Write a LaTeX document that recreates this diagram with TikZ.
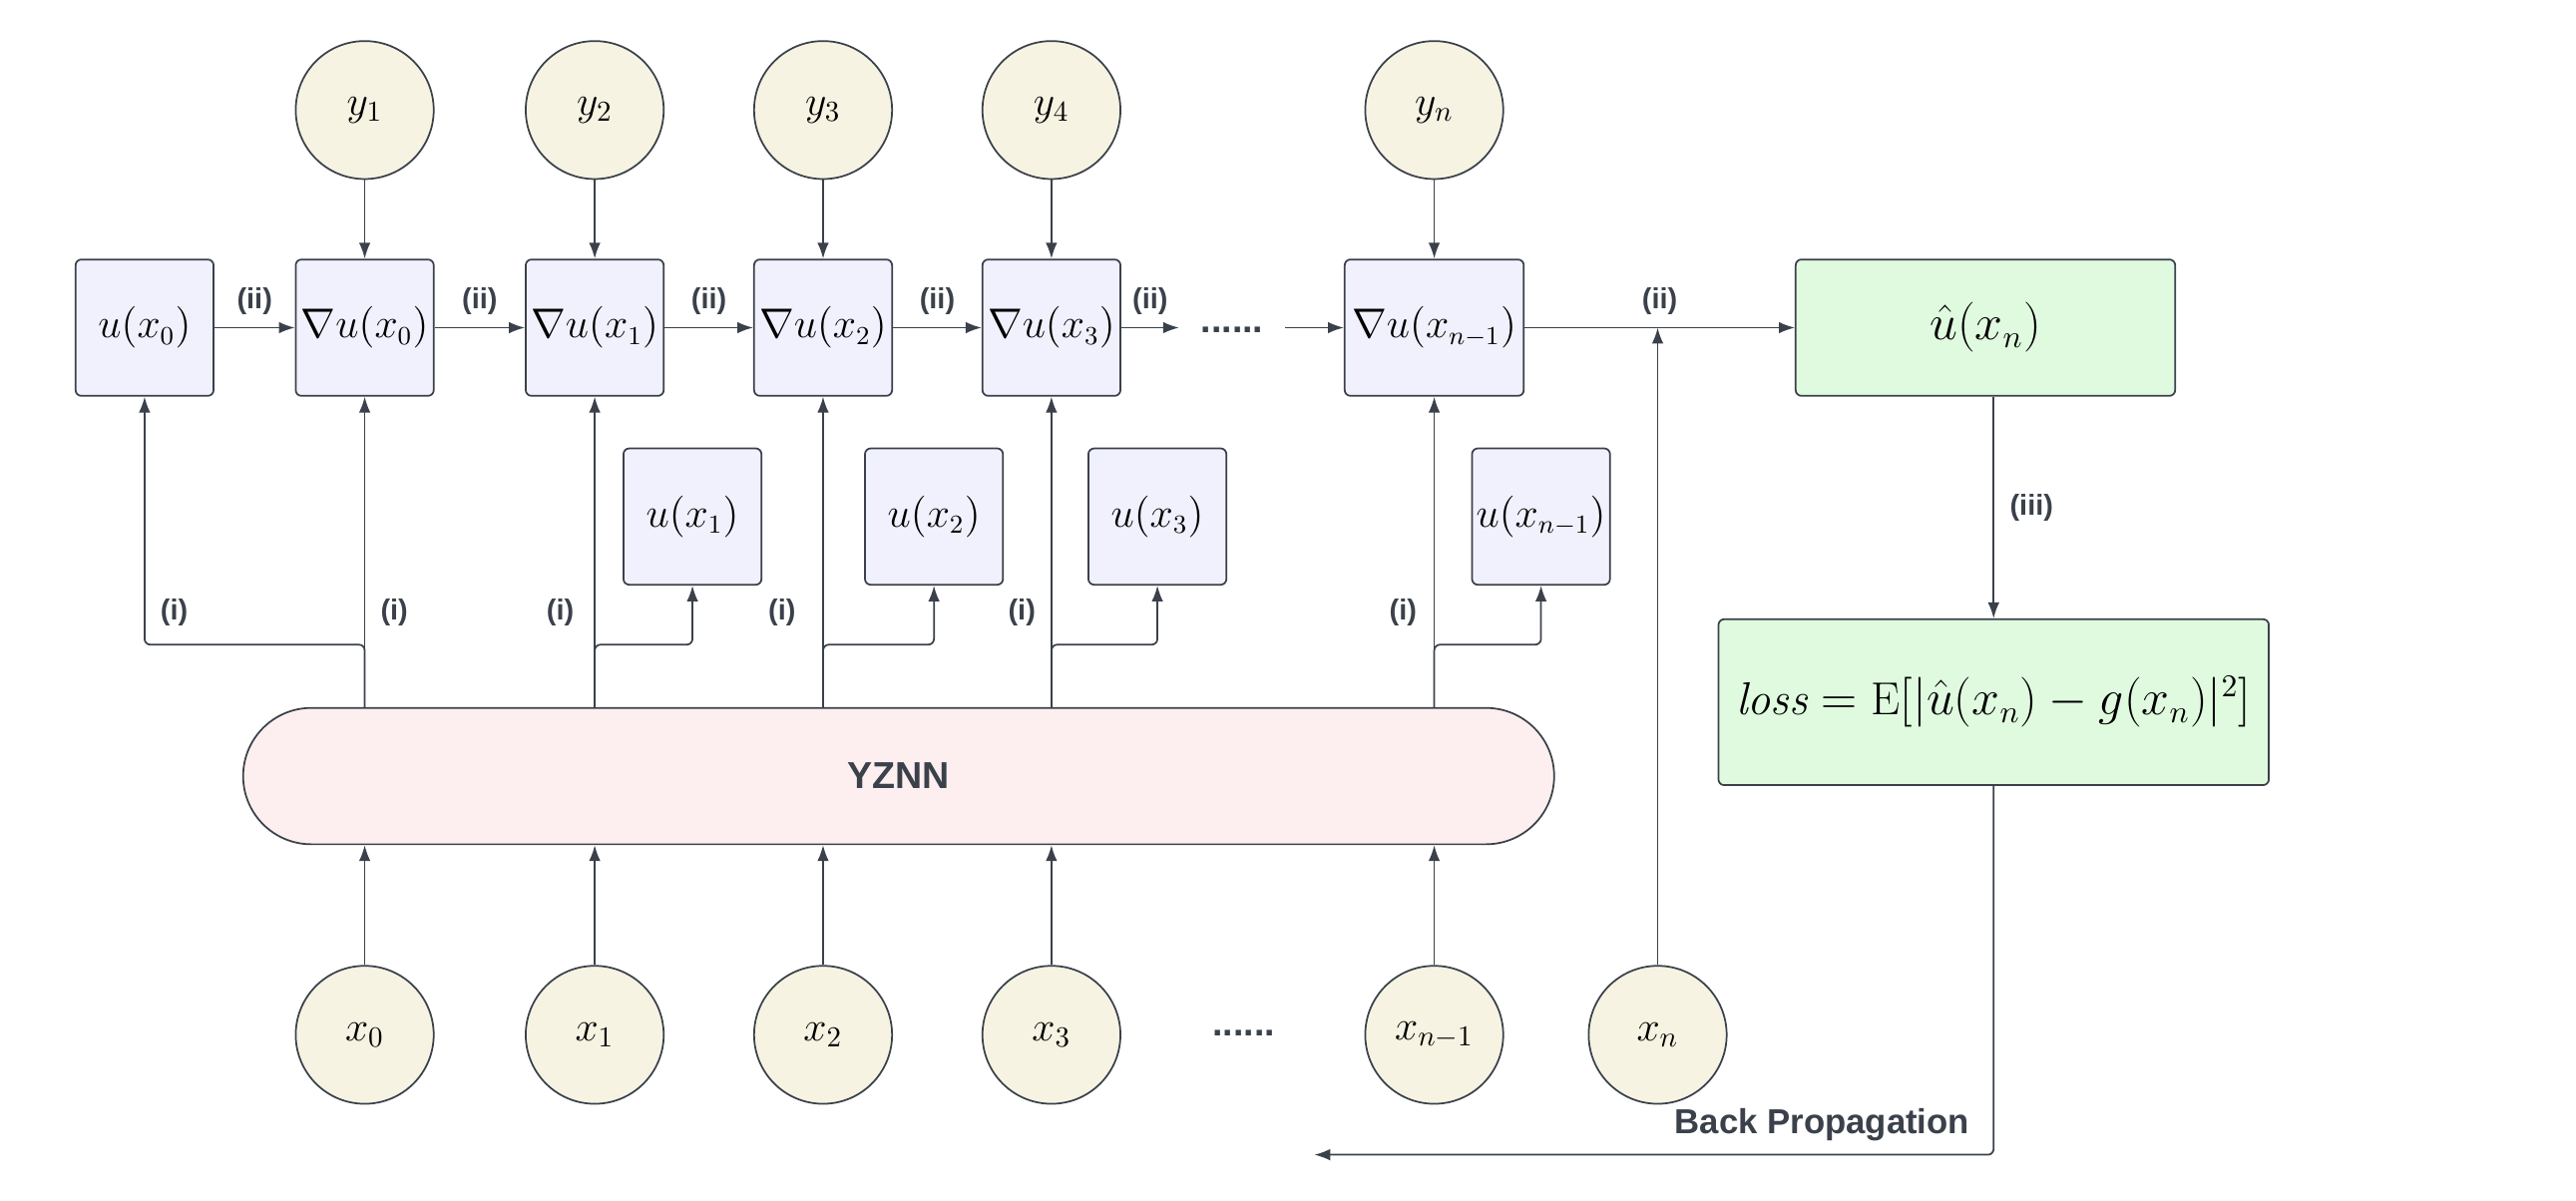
\documentclass[tikz,border=0pt]{standalone}
\usepackage{xcolor}
\usepackage{tikz}
\usetikzlibrary{arrows.meta, positioning, calc}
\usepackage{amsmath}
\usepackage{fontspec}
\setsansfont{Liberation Sans}
\definecolor{edge}{RGB}{58, 65, 74}
\definecolor{varfill}{RGB}{240, 241, 253}
\definecolor{infill}{RGB}{246, 243, 226}
\definecolor{outfill}{RGB}{224, 250, 224}
\definecolor{netfill}{RGB}{253, 239, 239}

\begin{document}
\begin{tikzpicture}[
    x=1cm, y=1cm,
    >={Latex[length=5.5pt, width=4pt]},
    arr/.style={->, draw=edge, line width=0.6pt},
    varbox/.style={rectangle, rounded corners=2pt, draw=edge, line width=0.6pt, fill=varfill,
      minimum width=1.68cm, minimum height=1.66cm, inner sep=1pt, font=\fontsize{13.5}{16}\selectfont},
    inbox/.style={circle, draw=edge, line width=0.6pt, fill=infill, minimum size=1.68cm,
      inner sep=0pt, font=\fontsize{14}{16}\selectfont},
    outbox/.style={rectangle, rounded corners=2pt, draw=edge, line width=0.6pt, fill=outfill,
      inner sep=1pt, font=\fontsize{16}{19}\selectfont},
    tag/.style={font=\sffamily\bfseries\fontsize{10}{12}\selectfont, text=edge},
    dotsline/.style={font=\sffamily\bfseries\fontsize{13}{15}\selectfont, text=edge, inner sep=0pt}
  ]
  \useasboundingbox (0,0) rectangle (31.36,14.62);

  % Targets
  \node[inbox] (y1) at (4.44, 13.28) {$y_1$};
  \node[inbox] (y2) at (7.24, 13.28) {$y_2$};
  \node[inbox] (y3) at (10.02, 13.28) {$y_3$};
  \node[inbox] (y4) at (12.8, 13.28) {$y_4$};
  \node[inbox] (yn) at (17.46, 13.28) {$y_n$};

  % Gradient row
  \node[varbox] (u0) at (1.76, 10.63) {$u(x_0)$};
  \node[varbox] (g0) at (4.44, 10.63) {$\nabla u(x_0)$};
  \node[varbox] (g1) at (7.24, 10.63) {$\nabla u(x_1)$};
  \node[varbox] (g2) at (10.02, 10.63) {$\nabla u(x_2)$};
  \node[varbox] (g3) at (12.8, 10.63) {$\nabla u(x_3)$};
  \node[dotsline, minimum width=1.28cm] (dotsT) at (15.0, 10.6) {......};
  \node[varbox, minimum width=2.18cm] (gn) at (17.46, 10.63) {$\nabla u(x_{n-1})$};
  \node[outbox, minimum width=4.62cm, minimum height=1.66cm] (uhat) at (24.17, 10.63) {$\hat{u}(x_n)$};

  % Values
  \node[varbox] (v1) at (8.43, 8.33) {$u(x_1)$};
  \node[varbox] (v2) at (11.37, 8.33) {$u(x_2)$};
  \node[varbox] (v3) at (14.09, 8.33) {$u(x_3)$};
  \node[varbox] (vn) at (18.76, 8.33) {$u(x_{n-1})$};

  % Network
  \node[rectangle, rounded corners=0.83cm, draw=edge, line width=0.6pt, fill=netfill,
    minimum width=15.96cm, minimum height=1.66cm, text=edge,
    font=\sffamily\bfseries\fontsize{13}{15}\selectfont] (net) at (10.94, 5.17) {YZNN};

  % Loss
  \node[outbox, minimum width=6.7cm, minimum height=2.02cm] (loss) at (24.27, 6.07)
    {$\mathit{loss} = \mathrm{E}[|\hat{u}(x_n) - g(x_n)|^2]$};

  % Inputs
  \node[inbox] (x0) at (4.44, 2.02) {$x_0$};
  \node[inbox] (x1) at (7.24, 2.02) {$x_1$};
  \node[inbox] (x2) at (10.02, 2.02) {$x_2$};
  \node[inbox] (x3) at (12.8, 2.02) {$x_3$};
  \node[dotsline] (dotsB) at (15.14, 2.04) {......};
  \node[inbox] (xn1) at (17.46, 2.02) {$x_{n-1}$};
  \node[inbox] (xn) at (20.18, 2.02) {$x_n$};

  % Targets into gradients
  \foreach \i/\j in {1/0, 2/1, 3/2, 4/3, n/n} {
    \draw[arr] (y\i.south) -- (g\j.north);
  }

  % Chain (ii)
  \draw[arr] (u0) -- node[tag, above=1pt] {(ii)} (g0);
  \foreach \a/\b in {g0/g1, g1/g2, g2/g3} {
    \draw[arr] (\a) -- node[tag, above=1pt] {(ii)} (\b);
  }
  \draw[arr] (g3.east) -- node[tag, above=1pt] {(ii)} (g3.east -| dotsT.west);
  \draw[arr] (gn.west -| dotsT.east) -- (gn.west);
  \draw[arr] (gn) -- node[tag, above=1pt] {(ii)} (uhat);

  % Network outputs (i)
  \foreach \g in {g0, g1, g2, g3, gn} {
    \draw[arr] (\g |- net.north) -- (\g.south);
  }
  \draw[arr, rounded corners=2pt] (g0 |- net.north) -- ++(0, 0.76) -| (u0.south);
  \foreach \g/\v in {g1/v1, g2/v2, g3/v3, gn/vn} {
    \draw[arr, rounded corners=2pt] (\g |- net.north) -- ++(0, 0.76) -| (\v.south);
  }
  \foreach \px [count=\k] in {2.12, 4.8, 6.82, 9.52, 12.44, 17.08} {
    \node[tag] (lab\k) at (\px, 7.16) {(i)};
  }

  % Inputs into network
  \foreach \i in {x0, x1, x2, x3, xn1} {
    \draw[arr] (\i) -- (\i |- net.south);
  }
  \draw[arr] (xn) -- (xn |- gn.east);

  % Loss and back propagation
  \draw[arr] (loss.north |- uhat.south) -- node[tag, right=2pt] {(iii)} (loss.north);
  \coordinate (bp) at (16.0, 0.56);
  \draw[arr, rounded corners=2pt] (loss.south) |- (bp);
  \node[tag, font=\sffamily\bfseries\fontsize{12}{14}\selectfont, anchor=east] (bplabel) at (24.1, 0.92) {Back Propagation};

\end{tikzpicture}
\end{document}
